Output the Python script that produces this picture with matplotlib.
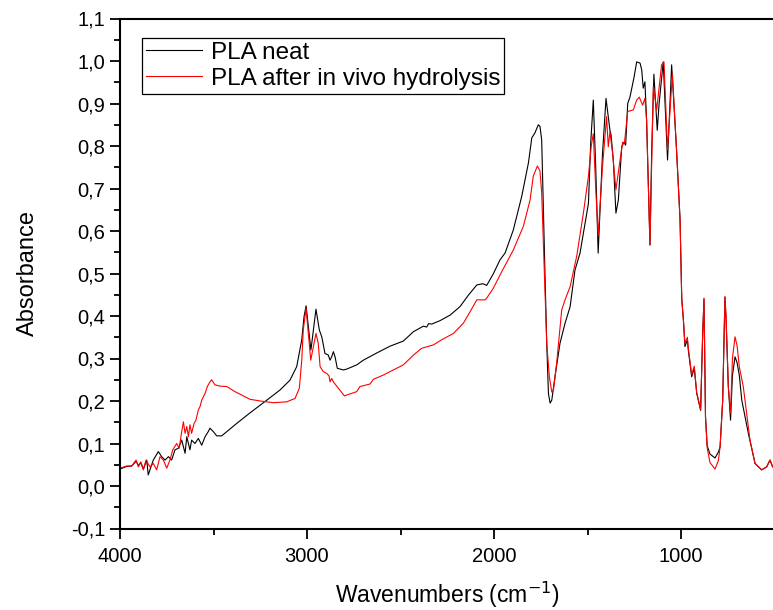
import matplotlib

matplotlib.use("Agg")
import matplotlib.pyplot as plt
from matplotlib.ticker import FuncFormatter, MultipleLocator

plt.rcParams["font.family"] = ["Liberation Sans", "DejaVu Sans"]

# PLA neat (wavenumber cm-1, absorbance)
neat_wn = [4000, 3964, 3938, 3914, 3900, 3889, 3875, 3857, 3849, 3822, 3795, 3777,
           3759, 3741, 3724, 3706, 3688, 3670, 3652, 3643, 3626, 3617, 3599, 3581,
           3563, 3545, 3528, 3519, 3501, 3483, 3456, 3429, 3385, 3305, 3215, 3144,
           3091, 3055, 3028, 3016, 3005, 2979, 2965, 2952, 2934, 2921, 2904, 2886,
           2877, 2868, 2859, 2850, 2838, 2806, 2788, 2734, 2699, 2627, 2556, 2485,
           2431, 2378, 2360, 2350, 2333, 2289, 2235, 2182, 2137, 2092, 2060, 2039,
           2004, 1968, 1941, 1897, 1852, 1816, 1798, 1781, 1763, 1754, 1745, 1736,
           1727, 1718, 1709, 1700, 1691, 1674, 1647, 1620, 1593, 1567, 1540, 1513,
           1495, 1483, 1469, 1456, 1443, 1420, 1401, 1380, 1374, 1362, 1348, 1335,
           1317, 1305, 1296, 1285, 1273, 1251, 1237, 1219, 1210, 1202, 1193, 1184,
           1166, 1157, 1145, 1127, 1117, 1095, 1072, 1050, 1023, 1005, 996, 987,
           979, 966, 961, 943, 929, 916, 895, 884, 877, 869, 860, 845, 818, 800,
           791, 777, 765, 759, 747, 735, 725, 711, 700, 688, 675, 640, 604, 569,
           542, 524, 510]
neat_abs = [0.040, 0.046, 0.047, 0.058, 0.048, 0.055, 0.040, 0.061, 0.026, 0.061, 0.081, 0.069,
            0.061, 0.069, 0.061, 0.085, 0.089, 0.108, 0.077, 0.116, 0.085, 0.108, 0.100, 0.112,
            0.096, 0.116, 0.128, 0.136, 0.128, 0.118, 0.118, 0.128, 0.144, 0.172, 0.202, 0.226,
            0.249, 0.281, 0.344, 0.398, 0.424, 0.320, 0.370, 0.416, 0.367, 0.351, 0.312, 0.308,
            0.296, 0.304, 0.316, 0.304, 0.277, 0.273, 0.275, 0.285, 0.296, 0.313, 0.329, 0.341,
            0.363, 0.376, 0.374, 0.382, 0.381, 0.389, 0.402, 0.422, 0.449, 0.473, 0.476, 0.472,
            0.499, 0.532, 0.548, 0.602, 0.681, 0.760, 0.819, 0.831, 0.850, 0.846, 0.814, 0.649,
            0.492, 0.336, 0.218, 0.195, 0.202, 0.257, 0.336, 0.383, 0.422, 0.508, 0.548, 0.618,
            0.665, 0.806, 0.908, 0.750, 0.548, 0.780, 0.912, 0.837, 0.826, 0.767, 0.642, 0.673,
            0.798, 0.809, 0.802, 0.900, 0.915, 0.962, 0.998, 0.995, 0.979, 0.936, 0.951, 0.861,
            0.567, 0.783, 0.969, 0.837, 0.900, 0.998, 0.767, 0.991, 0.784, 0.626, 0.440, 0.390,
            0.328, 0.344, 0.320, 0.257, 0.277, 0.218, 0.178, 0.359, 0.440, 0.163, 0.095, 0.075,
            0.066, 0.080, 0.092, 0.202, 0.445, 0.391, 0.234, 0.155, 0.260, 0.304, 0.290, 0.260,
            0.202, 0.124, 0.053, 0.038, 0.045, 0.061, 0.045]

# PLA after in vivo hydrolysis
hydro_wn = [4000, 3964, 3938, 3914, 3902, 3889, 3875, 3861, 3840, 3822, 3804, 3786,
            3768, 3750, 3733, 3718, 3697, 3683, 3670, 3661, 3652, 3643, 3634, 3626,
            3617, 3604, 3594, 3581, 3572, 3563, 3545, 3533, 3519, 3510, 3492, 3465,
            3429, 3385, 3341, 3305, 3250, 3180, 3109, 3064, 3041, 3028, 3020, 3005,
            2980, 2952, 2940, 2930, 2913, 2895, 2882, 2877, 2868, 2859, 2832, 2800,
            2788, 2734, 2717, 2663, 2645, 2592, 2538, 2485, 2431, 2387, 2324, 2280,
            2217, 2164, 2128, 2092, 2048, 2039, 2004, 1959, 1897, 1843, 1807, 1790,
            1768, 1754, 1745, 1736, 1727, 1718, 1704, 1691, 1682, 1665, 1638, 1620,
            1593, 1558, 1522, 1495, 1480, 1469, 1456, 1443, 1420, 1398, 1389, 1380,
            1366, 1348, 1326, 1312, 1303, 1285, 1255, 1237, 1223, 1205, 1193, 1184,
            1166, 1148, 1130, 1104, 1091, 1072, 1046, 1023, 1005, 996, 987, 979,
            966, 961, 943, 929, 916, 895, 884, 877, 869, 860, 845, 818, 800, 791,
            777, 765, 759, 747, 735, 725, 711, 700, 688, 667, 631, 604, 569, 542,
            524, 510]
hydro_abs = [0.042, 0.047, 0.047, 0.061, 0.045, 0.057, 0.038, 0.061, 0.045, 0.053, 0.038, 0.069,
             0.061, 0.042, 0.061, 0.085, 0.100, 0.089, 0.128, 0.151, 0.124, 0.140, 0.116, 0.144,
             0.124, 0.147, 0.155, 0.179, 0.187, 0.202, 0.218, 0.234, 0.245, 0.250, 0.238, 0.235,
             0.234, 0.222, 0.212, 0.204, 0.200, 0.196, 0.198, 0.206, 0.230, 0.296, 0.367, 0.418,
             0.296, 0.359, 0.336, 0.281, 0.269, 0.265, 0.259, 0.245, 0.253, 0.245, 0.230, 0.212,
             0.214, 0.222, 0.234, 0.240, 0.251, 0.261, 0.273, 0.285, 0.308, 0.324, 0.332, 0.344,
             0.359, 0.383, 0.410, 0.438, 0.438, 0.442, 0.465, 0.504, 0.555, 0.611, 0.673, 0.729,
             0.753, 0.741, 0.690, 0.571, 0.453, 0.336, 0.257, 0.221, 0.226, 0.289, 0.414, 0.438,
             0.469, 0.540, 0.642, 0.729, 0.800, 0.829, 0.700, 0.589, 0.750, 0.869, 0.798, 0.834,
             0.784, 0.697, 0.767, 0.809, 0.805, 0.881, 0.885, 0.908, 0.915, 0.896, 0.912, 0.861,
             0.567, 0.940, 0.885, 0.991, 0.998, 0.791, 0.971, 0.784, 0.626, 0.440, 0.390, 0.335,
             0.350, 0.325, 0.262, 0.282, 0.220, 0.180, 0.360, 0.442, 0.163, 0.090, 0.055, 0.040,
             0.060, 0.092, 0.202, 0.445, 0.400, 0.234, 0.171, 0.300, 0.351, 0.330, 0.280, 0.234,
             0.108, 0.053, 0.038, 0.045, 0.061, 0.045]

fig = plt.figure(figsize=(7.73, 6.10), dpi=100)
ax = fig.add_axes([120 / 773, 81.5 / 610, 654.5 / 773, 510 / 610])

ax.plot(neat_wn, neat_abs, color="black", lw=0.8, label="PLA neat")
ax.plot(hydro_wn, hydro_abs, color="#ff0000", lw=0.8, label="PLA after in vivo hydrolysis")

ax.set_xlim(4000, 500)
ax.set_ylim(-0.1, 1.1)
ax.xaxis.set_major_locator(MultipleLocator(1000))
ax.xaxis.set_minor_locator(MultipleLocator(500))
ax.yaxis.set_major_locator(MultipleLocator(0.1))
ax.yaxis.set_minor_locator(MultipleLocator(0.05))
ax.yaxis.set_major_formatter(FuncFormatter(lambda v, p: f"{v:.1f}".replace(".", ",")))

for s in ax.spines.values():
    s.set_linewidth(1.5)
ax.spines["right"].set_visible(False)
ax.tick_params(which="major", direction="out", length=7, width=1.3, labelsize=14.5)
ax.tick_params(axis="x", which="major", pad=6)
ax.tick_params(which="minor", direction="out", length=4, width=1.3)
ax.tick_params(top=False, right=False, which="both")

ax.set_xlabel("Wavenumbers (cm$^{-1}$)", fontsize=16.5)
ax.set_ylabel("Absorbance", fontsize=17)
ax.xaxis.set_label_coords(0.5, -0.1)
ax.yaxis.set_label_coords(-0.124, 0.5)

leg = ax.legend(loc="upper left", bbox_to_anchor=(0.0336, 0.962), fontsize=17.5,
                frameon=True, fancybox=False, edgecolor="black", framealpha=1,
                handlelength=2.3, handletextpad=0.4, borderpad=0.15,
                labelspacing=0.18, borderaxespad=0)
leg.get_frame().set_linewidth(0.9)

fig.savefig("out.png", dpi=100)
